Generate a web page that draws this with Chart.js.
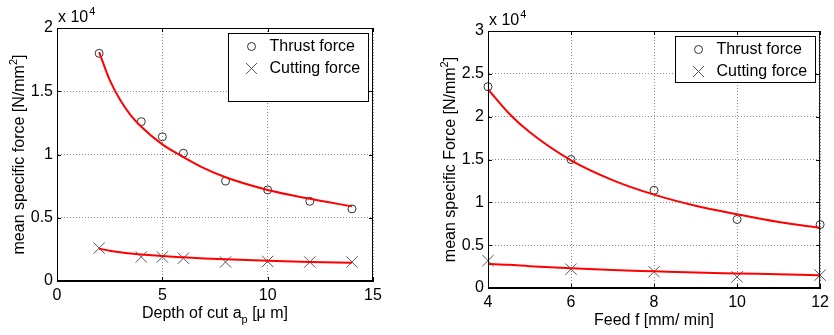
<!DOCTYPE html>
<html>
<head>
<meta charset="utf-8">
<script src="https://cdn.jsdelivr.net/npm/chart.js@4/dist/chart.umd.min.js"></script>
<style>
  html, body { margin: 0; padding: 0; background: #fff; }
  #wrap { position: relative; width: 834px; height: 335px; }
  .panel { position: absolute; top: 0; height: 335px; }
</style>
</head>
<body>
<div id="wrap">
  <div class="panel" style="left:0;width:420px"><canvas id="depthChart" width="420" height="335"></canvas></div>
  <div class="panel" style="left:420px;width:414px"><canvas id="feedChart" width="414" height="335"></canvas></div>
</div>
<script>
// Left panel: depth of cut (values in x 10^4 N/mm^2)
const depthX = [2, 4, 5, 6, 8, 10, 12, 14];
const depthThrust = [1.80, 1.26, 1.14, 1.01, 0.79, 0.72, 0.63, 0.57];
const depthCutting = [0.26, 0.19, 0.19, 0.18, 0.15, 0.155, 0.15, 0.15];
const depthFitX = [2, 2.5, 3, 3.5, 4, 5, 6, 7, 8, 10, 12, 14];
const depthThrustFit = [1.81, 1.59, 1.43, 1.31, 1.22, 1.08, 0.98, 0.89, 0.82, 0.72, 0.65, 0.59];
const depthCuttingFit = [0.255, 0.24, 0.228, 0.218, 0.21, 0.197, 0.187, 0.178, 0.171, 0.16, 0.151, 0.144];

// Right panel: feed
const feedX = [4, 6, 8, 10, 12];
const feedThrust = [2.35, 1.50, 1.14, 0.80, 0.74];
const feedCutting = [0.32, 0.22, 0.19, 0.13, 0.15];
const feedFitX = [4, 4.5, 5, 6, 7, 8, 9, 10, 11, 12];
const feedThrustFit = [2.32, 2.04, 1.82, 1.49, 1.26, 1.09, 0.96, 0.86, 0.77, 0.70];
const feedCuttingFit = [0.28, 0.27, 0.255, 0.23, 0.21, 0.195, 0.18, 0.17, 0.16, 0.15];

const legendLabels = ['Thrust force', 'Cutting force'];
const FONT = '"Liberation Sans", Arial, sans-serif';

const pts = (xs, ys) => xs.map((x, i) => ({ x: x, y: ys[i] }));

// black box round the plot plus MATLAB-style inward ticks
const framePlugin = {
    id: 'frame',
    afterDraw(chart) {
        const { ctx, chartArea: a, scales } = chart;
        ctx.save();
        ctx.strokeStyle = '#000';
        ctx.lineWidth = 1;
        ctx.strokeRect(a.left + 0.5, a.top + 0.5, a.width - 1, a.height - 1);
        ctx.beginPath();
        scales.x.ticks.forEach((t, i) => {
            const px = Math.round(scales.x.getPixelForTick(i)) + 0.5;
            ctx.moveTo(px, a.bottom); ctx.lineTo(px, a.bottom - 4);
            ctx.moveTo(px, a.top); ctx.lineTo(px, a.top + 4);
        });
        scales.y.ticks.forEach((t, i) => {
            const py = Math.round(scales.y.getPixelForTick(i)) + 0.5;
            ctx.moveTo(a.left, py); ctx.lineTo(a.left + 4, py);
            ctx.moveTo(a.right, py); ctx.lineTo(a.right - 4, py);
        });
        ctx.stroke();
        ctx.restore();
    }
};

// axis titles with sub/superscripts and the "x 10^4" exponent
const labelPlugin = {
    id: 'matlabLabels',
    afterDraw(chart, args, opts) {
        const { ctx, chartArea: a } = chart;
        ctx.save();
        ctx.fillStyle = '#000';

        // exponent
        ctx.font = '16px ' + FONT;
        ctx.textBaseline = 'alphabetic';
        ctx.textAlign = 'left';
        const ex = a.left + 1, ey = a.top - 6;
        ctx.fillText('x 10', ex, ey);
        const w10 = ctx.measureText('x 10').width;
        ctx.font = '11px ' + FONT;
        ctx.fillText('4', ex + w10 + 1, ey - 7);

        // parts: [text, 'sub' | 'sup' | '']
        const drawParts = (parts, cx, cy) => {
            let total = 0;
            parts.forEach(p => {
                ctx.font = (p[1] ? '11px ' : '16px ') + FONT;
                total += ctx.measureText(p[0]).width;
            });
            let x = cx - total / 2;
            parts.forEach(p => {
                ctx.font = (p[1] ? '11px ' : '16px ') + FONT;
                const dy = p[1] === 'sub' ? 5 : (p[1] === 'sup' ? -7 : 0);
                ctx.fillText(p[0], x, cy + dy);
                x += ctx.measureText(p[0]).width;
            });
        };
        drawParts(opts.xTitle, (a.left + a.right) / 2, a.bottom + 37);

        ctx.translate(a.left - 33, (a.top + a.bottom) / 2);
        ctx.rotate(-Math.PI / 2);
        drawParts(opts.yTitle, 0, 0);
        ctx.restore();
    }
};

// legend box inside the top-right corner
const boxLegendPlugin = {
    id: 'boxLegend',
    afterDraw(chart, args, opts) {
        const { ctx, chartArea: a } = chart;
        const w = 140, h = opts.height;
        const L = Math.round(a.right - 5 - w) + 0.5, T = Math.round(a.top + 5) + 0.5;
        ctx.save();
        ctx.fillStyle = '#fff';
        ctx.fillRect(L, T, w, h);
        ctx.strokeStyle = '#000';
        ctx.lineWidth = 1;
        ctx.strokeRect(L, T, w, h);

        ctx.strokeStyle = '#333';
        ctx.beginPath();
        ctx.arc(L + 23, T + 13, 4, 0, Math.PI * 2);
        ctx.stroke();
        ctx.strokeStyle = '#555';
        ctx.beginPath();
        ctx.moveTo(L + 17.5, T + 29.5); ctx.lineTo(L + 28.5, T + 40.5);
        ctx.moveTo(L + 28.5, T + 29.5); ctx.lineTo(L + 17.5, T + 40.5);
        ctx.stroke();

        ctx.fillStyle = '#000';
        ctx.font = '16px ' + FONT;
        ctx.textBaseline = 'middle';
        ctx.fillText(legendLabels[0], L + 41, T + 13);
        ctx.fillText(legendLabels[1], L + 41, T + 35);
        ctx.restore();
    }
};

function makeChart(id, d) {
    const tickFont = { family: FONT, size: 16 };
    const plain = v => String(+v.toFixed(2));
    return new Chart(document.getElementById(id).getContext('2d'), {
        type: 'scatter',
        data: {
            datasets: [{
                label: 'Thrust fit',
                data: pts(d.fitX, d.thrustFit),
                showLine: true,
                borderColor: '#ff0000',
                borderWidth: 2,
                pointRadius: 0,
                cubicInterpolationMode: 'monotone',
                clip: false,
                order: 0
            }, {
                label: 'Cutting fit',
                data: pts(d.fitX, d.cuttingFit),
                showLine: true,
                borderColor: '#ff0000',
                borderWidth: 2,
                pointRadius: 0,
                cubicInterpolationMode: 'monotone',
                clip: false,
                order: 0
            }, {
                label: legendLabels[0],
                data: pts(d.x, d.thrust),
                pointStyle: 'circle',
                pointRadius: 4,
                borderColor: '#333',
                backgroundColor: 'rgba(0,0,0,0)',
                borderWidth: 1,
                clip: false,
                order: 1
            }, {
                label: legendLabels[1],
                data: pts(d.x, d.cutting),
                pointStyle: 'crossRot',
                pointRadius: 8,
                borderColor: '#555',
                borderWidth: 1,
                clip: false,
                order: 1
            }]
        },
        options: {
            responsive: false,
            animation: false,
            events: [],
            layout: { padding: { top: d.padTop, right: d.padRight, left: 0, bottom: 0 } },
            scales: {
                x: {
                    type: 'linear',
                    min: d.xMin, max: d.xMax,
                    ticks: { stepSize: d.xStep, color: '#000', font: tickFont, padding: 5, maxRotation: 0, callback: plain },
                    grid: { color: '#8c8c8c', drawTicks: false },
                    border: { display: true, color: '#000', dash: [1, 2] },
                    afterFit: s => { s.height = d.xAxisH; }
                },
                y: {
                    min: 0, max: d.yMax,
                    ticks: { stepSize: 0.5, color: '#000', font: tickFont, padding: 4, callback: plain },
                    grid: { color: '#8c8c8c', drawTicks: false },
                    border: { display: true, color: '#000', dash: [1, 2] },
                    afterFit: s => { s.width = d.yAxisW; }
                }
            },
            plugins: {
                legend: { display: false },
                tooltip: { enabled: false },
                matlabLabels: { xTitle: d.xTitle, yTitle: d.yTitle },
                boxLegend: { height: d.legendH }
            }
        },
        plugins: [framePlugin, labelPlugin, boxLegendPlugin]
    });
}

makeChart('depthChart', {
    x: depthX, thrust: depthThrust, cutting: depthCutting,
    fitX: depthFitX, thrustFit: depthThrustFit, cuttingFit: depthCuttingFit,
    xMin: 0, xMax: 15, xStep: 5, yMax: 2,
    padTop: 28, padRight: 47, xAxisH: 54, yAxisW: 57, legendH: 68,
    xTitle: [['Depth of cut a', ''], ['p', 'sub'], [' [\u03BC m]', '']],
    yTitle: [['mean specific force [N/mm', ''], ['2', 'sup'], [']', '']]
});

makeChart('feedChart', {
    x: feedX, thrust: feedThrust, cutting: feedCutting,
    fitX: feedFitX, thrustFit: feedThrustFit, cuttingFit: feedCuttingFit,
    xMin: 4, xMax: 12, xStep: 2, yMax: 3,
    padTop: 31, padRight: 10, xAxisH: 47, yAxisW: 68, legendH: 46,
    xTitle: [['Feed f [mm/ min]', '']],
    yTitle: [['mean specific Force [N/mm', ''], ['2', 'sup'], [']', '']]
});
</script>
</body>
</html>
